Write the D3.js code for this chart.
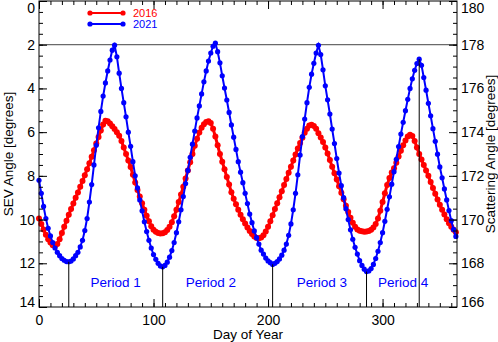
<!DOCTYPE html>
<html>
<head>
<meta charset="utf-8">
<script src="https://cdn.jsdelivr.net/npm/d3@7"></script>
<style>
  body { margin: 0; background: #fff; }
  svg { display: block; font-family: "Liberation Sans", Arial, Helvetica, sans-serif; }
</style>
</head>
<body>
<div class="chart"></div>
<script>
// SEV angle (degrees), one value every 2 days starting at day 0
let sev2016 = [
    9.95, 10.2, 10.45, 10.7, 10.9, 11.05, 11.17, 11.2, 11.12, 10.9,
    10.62, 10.33, 10.05, 9.78, 9.52, 9.26, 9.0, 8.76, 8.5, 8.24,
    7.97, 7.7, 7.42, 7.13, 6.83, 6.52, 6.22, 5.93, 5.65, 5.48,
    5.5, 5.6, 5.73, 5.86, 6.0, 6.17, 6.4, 6.7, 7.0, 7.3,
    7.6, 7.95, 8.3, 8.65, 8.95, 9.25, 9.55, 9.82, 10.08, 10.3,
    10.46, 10.56, 10.62, 10.64, 10.63, 10.58, 10.48, 10.33, 10.12, 9.85,
    9.55, 9.2, 8.85, 8.5, 8.12, 7.75, 7.38, 7.0, 6.62, 6.3,
    6.02, 5.8, 5.64, 5.54, 5.5, 5.58, 5.85, 6.2, 6.6, 7.0,
    7.35, 7.7, 8.05, 8.4, 8.75, 9.05, 9.3, 9.55, 9.78, 9.98,
    10.18, 10.36, 10.52, 10.66, 10.77, 10.84, 10.86, 10.82, 10.72, 10.55,
    10.33, 10.08, 9.8, 9.52, 9.25, 8.98, 8.7, 8.42, 8.14, 7.86,
    7.58, 7.3, 7.02, 6.75, 6.5, 6.26, 6.03, 5.84, 5.7, 5.66,
    5.72, 5.85, 6.05, 6.25, 6.45, 6.7, 6.98, 7.28, 7.58, 7.88,
    8.17, 8.47, 8.77, 9.07, 9.37, 9.65, 9.92, 10.15, 10.33, 10.45,
    10.51, 10.54, 10.56, 10.55, 10.52, 10.46, 10.36, 10.2, 9.95, 9.6,
    9.2, 8.8, 8.42, 8.1, 7.85, 7.65, 7.4, 7.12, 6.85, 6.6,
    6.38, 6.2, 6.12, 6.18, 6.4, 6.7, 7.0, 7.25, 7.5, 7.75,
    8.0, 8.28, 8.55, 8.82, 9.08, 9.32, 9.55, 9.77, 9.98, 10.17,
    10.33, 10.47, 10.58
]

let sev2021 = [
    8.2, 8.8, 9.4, 9.95, 10.4, 10.75, 11.05, 11.3, 11.5, 11.65,
    11.78, 11.86, 11.92, 11.93, 11.9, 11.8, 11.65, 11.5, 11.25, 10.95,
    10.5, 9.95, 9.2, 8.4, 7.5, 6.6, 5.8, 5.05, 4.35, 3.75,
    3.2, 2.7, 2.25, 2.02, 2.55, 3.3, 4.0, 4.65, 5.3, 6.0,
    6.65, 7.35, 8.0, 8.55, 9.1, 9.6, 10.1, 10.55, 10.95, 11.3,
    11.6, 11.82, 12.0, 12.12, 12.16, 12.1, 11.95, 11.72, 11.42, 11.05,
    10.6, 10.1, 9.55, 8.95, 8.35, 7.75, 7.15, 6.55, 5.95, 5.35,
    4.8, 4.25, 3.7, 3.2, 2.75, 2.38, 2.07, 1.93, 2.32, 2.83,
    3.42, 3.98, 4.53, 5.1, 5.67, 6.23, 6.79, 7.35, 7.83, 8.31,
    8.8, 9.27, 9.75, 10.14, 10.52, 10.83, 11.12, 11.4, 11.58, 11.76,
    11.89, 11.97, 12.05, 12.0, 11.92, 11.8, 11.63, 11.4, 11.12, 10.72,
    10.2, 9.55, 8.8, 7.95, 7.05, 6.2, 5.4, 4.65, 3.95, 3.35,
    2.85, 2.38, 2.03, 2.45, 3.15, 3.88, 4.52, 5.17, 5.86, 6.52,
    7.21, 7.87, 8.45, 9.0, 9.5, 10.0, 10.47, 10.9, 11.27, 11.58,
    11.88, 12.1, 12.27, 12.38, 12.35, 12.24, 12.05, 11.78, 11.45, 11.05,
    10.6, 10.08, 9.53, 8.96, 8.38, 7.81, 7.24, 6.66, 6.09, 5.55,
    5.02, 4.5, 4.0, 3.56, 3.17, 2.86, 2.66, 2.94, 3.5, 4.08,
    4.68, 5.25, 5.84, 6.42, 7.01, 7.59, 8.09, 8.6, 9.1, 9.59,
    10.05, 10.45, 10.77
]

let dayStep = 2
let seriesNames = ['2016', '2021']
let periodDays = [26, 108, 204, 286, 332]
let periodLabels = ['Period 1', 'Period 2', 'Period 3', 'Period 4']
let dayTicks = [0, 100, 200, 300]
let sevTicks = [0, 2, 4, 6, 8, 10, 12, 14]
let scatTicks = [180, 178, 176, 174, 172, 170, 168, 166]

var margin = { top: 1, right: 41, bottom: 35, left: 39 };
var width = 498 - margin.left - margin.right;
var height = 342 - margin.top - margin.bottom;
var colors = ['#ff0000', '#0000ff'];
var labelDays = [67, 150, 247, 318];

let svg = d3.select('.chart')
    .append('svg')
    .attr('width', 498)
    .attr('height', 342)
    .append('g')
    .attr('transform', `translate(${margin.left},${margin.top})`)

var xScale = d3.scaleLinear().domain([0, 365]).range([0, width]);
var yScale = d3.scaleLinear().domain([0, 14]).range([0, height]);
var y2Scale = d3.scaleLinear().domain([180, 166]).range([0, height]);

// build the series as {day, v}
let series = [sev2016, sev2021].map(arr => arr.map((v, i) => ({ day: i * dayStep, v: v })))

// reference line at 2 degrees
svg.append('line')
    .attr('x1', 0).attr('x2', width)
    .attr('y1', yScale(2)).attr('y2', yScale(2))
    .attr('stroke', '#444').attr('stroke-width', 1)

let line = d3.line().x(d => xScale(d.day)).y(d => yScale(d.v))

series.forEach((s, k) => {
    let g = svg.append('g')
    g.append('path')
        .datum(s)
        .attr('fill', 'none')
        .attr('stroke', colors[k])
        .attr('stroke-width', k == 0 ? 3 : 2)
        .attr('d', line)
    g.selectAll('circle')
        .data(s)
        .enter()
        .append('circle')
        .attr('cx', d => xScale(d.day))
        .attr('cy', d => yScale(d.v))
        .attr('r', k == 0 ? 3 : 2.6)
        .attr('fill', colors[k])
})

// period boundaries, from the 2021 curve down to the axis
svg.selectAll('.period-line')
    .data(periodDays)
    .enter()
    .append('line')
    .attr('x1', d => xScale(d)).attr('x2', d => xScale(d))
    .attr('y1', d => yScale(sev2021[d / dayStep]))
    .attr('y2', height)
    .attr('stroke', '#000')
    .attr('stroke-width', 1)

svg.selectAll('.period-label')
    .data(periodLabels)
    .enter()
    .append('text')
    .attr('x', (d, i) => xScale(labelDays[i]))
    .attr('y', height - 20)
    .attr('text-anchor', 'middle')
    .attr('fill', '#0000ff')
    .style('font-size', '13.5px')
    .text(d => d)

// axes, ticks pointing inward
function styleAxis(g) {
    g.select('.domain').remove()
    g.selectAll('line').attr('stroke', '#000')
    g.selectAll('text').style('font-size', '14px').attr('fill', '#000')
        .style('font-family', '"Liberation Sans", Arial, Helvetica, sans-serif')
}

let minorDays = d3.range(0, 366, 10)
let minorSev = d3.range(0, 14.01, 0.5)

svg.append('g').attr('transform', `translate(0,${height})`)
    .call(d3.axisBottom(xScale).tickValues(minorDays).tickSize(-4).tickFormat(''))
    .call(styleAxis)
svg.append('g').attr('transform', `translate(0,${height})`)
    .call(d3.axisBottom(xScale).tickValues(dayTicks).tickSize(-8).tickPadding(8).tickFormat(d3.format('d')))
    .call(styleAxis)
svg.append('g')
    .call(d3.axisTop(xScale).tickValues(minorDays).tickSize(-4).tickFormat(''))
    .call(styleAxis)
svg.append('g')
    .call(d3.axisTop(xScale).tickValues(dayTicks).tickSize(-8).tickFormat(''))
    .call(styleAxis)

svg.append('g')
    .call(d3.axisLeft(yScale).tickValues(minorSev).tickSize(-4).tickFormat(''))
    .call(styleAxis)
svg.append('g')
    .call(d3.axisLeft(yScale).tickValues(sevTicks).tickSize(-8).tickPadding(4))
    .call(styleAxis)
    .selectAll('text')
    .attr('y', d => d == 0 ? 7 : d == 14 ? -4.5 : 0)

svg.append('g').attr('transform', `translate(${width},0)`)
    .call(d3.axisRight(y2Scale).tickValues(d3.range(166, 180.01, 0.5)).tickSize(-4).tickFormat(''))
    .call(styleAxis)
svg.append('g').attr('transform', `translate(${width},0)`)
    .call(d3.axisRight(y2Scale).tickValues(scatTicks).tickSize(-8).tickPadding(4))
    .call(styleAxis)
    .selectAll('text')
    .attr('y', d => d == 180 ? 7 : d == 166 ? -4.5 : 0)

svg.append('rect')
    .attr('width', width).attr('height', height)
    .attr('fill', 'none').attr('stroke', '#000').attr('stroke-width', 1)

// titles
svg.append('text')
    .attr('transform', `translate(${-margin.left + 13},${height / 2}) rotate(-90)`)
    .attr('text-anchor', 'middle')
    .style('font-size', '13.5px')
    .text('SEV Angle [degrees]')
svg.append('text')
    .attr('transform', `translate(${width + 37.5},${height / 2}) rotate(-90)`)
    .attr('text-anchor', 'middle')
    .style('font-size', '13.5px')
    .text('Scattering Angle [degrees]')
svg.append('text')
    .attr('x', width / 2)
    .attr('y', height + 32)
    .attr('text-anchor', 'middle')
    .style('font-size', '13.5px')
    .text('Day of Year')

// legend
let legend = svg.append('g').attr('transform', 'translate(51,12)')
seriesNames.forEach((name, k) => {
    let y = k * 11
    legend.append('line')
        .attr('x1', 0).attr('x2', 33).attr('y1', y).attr('y2', y)
        .attr('stroke', colors[k]).attr('stroke-width', 2)
    legend.selectAll('.dot' + k)
        .data([0, 33])
        .enter()
        .append('circle')
        .attr('cx', d => d).attr('cy', y).attr('r', 2.6)
        .attr('fill', colors[k])
    legend.append('text')
        .attr('x', 43).attr('y', y + 4)
        .attr('fill', colors[k])
        .style('font-size', '11px')
        .text(name)
})
</script>
</body>
</html>
